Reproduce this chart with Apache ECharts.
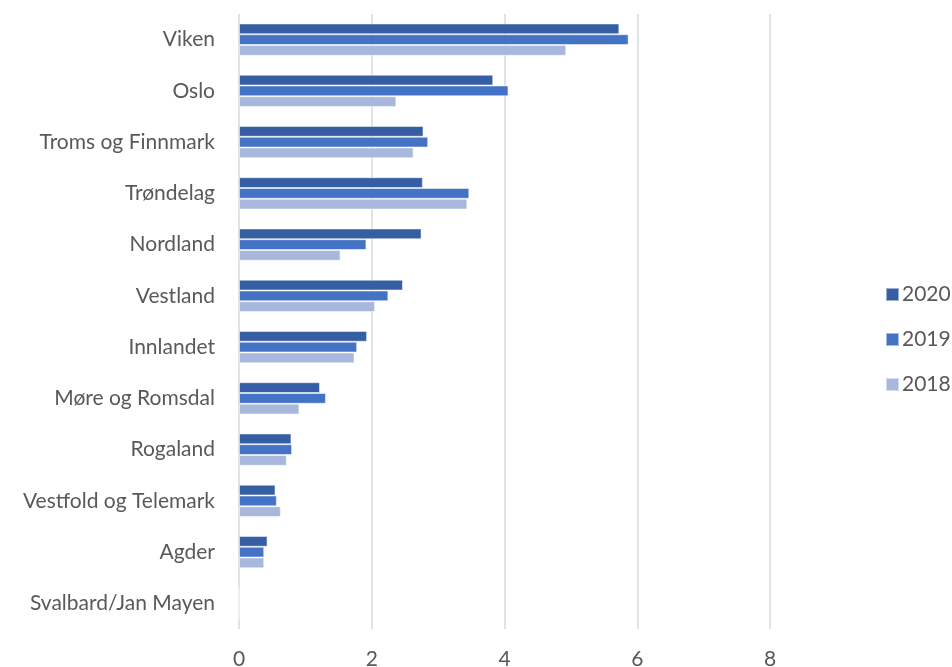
<!DOCTYPE html>
<html>
<head>
<meta charset="utf-8">
<script src="https://cdn.jsdelivr.net/npm/echarts@6/dist/echarts.min.js"></script>
<style>
  html, body { margin: 0; padding: 0; background: #fff; }
  #chart { width: 952px; height: 667px; }
</style>
</head>
<body>
<div id="chart"></div>
<script>
const categories = ["Viken", "Oslo", "Troms og Finnmark", "Trøndelag", "Nordland", "Vestland",
    "Innlandet", "Møre og Romsdal", "Rogaland", "Vestfold og Telemark", "Agder", "Svalbard/Jan Mayen"];
const values2020 = [5.73, 3.83, 2.78, 2.77, 2.75, 2.47, 1.93, 1.22, 0.79, 0.55, 0.43, 0];
const values2019 = [5.87, 4.06, 2.85, 3.47, 1.92, 2.25, 1.78, 1.31, 0.80, 0.57, 0.38, 0];
const values2018 = [4.93, 2.37, 2.63, 3.44, 1.53, 2.05, 1.74, 0.91, 0.72, 0.63, 0.38, 0];
const xTicks = [0, 2, 4, 6, 8];

const FONT = "Lato";
const TEXT_COLOR = "#595959";

var chart = echarts.init(document.getElementById("chart"));

function barSeries(name, data, color) {
    return {
        name: name,
        type: "bar",
        data: data,
        barGap: "0%",
        barCategoryGap: "37%",
        itemStyle: {
            color: color,
            borderColor: "rgba(255,255,255,0.5)",
            borderWidth: 1,
        },
        emphasis: { disabled: true },
    };
}

var option = {
    backgroundColor: "#fff",
    animation: false,
    textStyle: { fontFamily: FONT },
    grid: {
        left: 239,
        right: 182,
        top: 14,
        bottom: 38,
        containLabel: false,
        outerBoundsMode: "none",
    },
    legend: {
        orient: "vertical",
        left: 880,
        top: 279,
        itemWidth: 13,
        itemHeight: 13,
        itemGap: 24,
        icon: "rect",
        data: ["2020", "2019", "2018"],
        textStyle: { fontSize: 21, color: TEXT_COLOR, fontFamily: FONT, padding: [0, 0, 0, -2] },
    },
    xAxis: {
        type: "value",
        min: xTicks[0],
        max: xTicks[xTicks.length - 1],
        interval: 2,
        axisLine: { show: false },
        axisTick: { show: false },
        axisLabel: {
            fontSize: 21,
            color: TEXT_COLOR,
            margin: 20,
            showMaxLabel: true,
        },
        splitLine: { lineStyle: { color: "#d9d9d9", width: 1.5 } },
    },
    yAxis: {
        type: "category",
        inverse: true,
        data: categories,
        axisLine: { show: false },
        axisTick: { show: false },
        axisLabel: { fontSize: 21, color: TEXT_COLOR, margin: 24 },
    },
    series: [
        barSeries("2020", values2020, "#355ea3"),
        barSeries("2019", values2019, "#4472c4"),
        barSeries("2018", values2018, "#a8b7dc"),
    ],
};

chart.setOption(option);
</script>
</body>
</html>
